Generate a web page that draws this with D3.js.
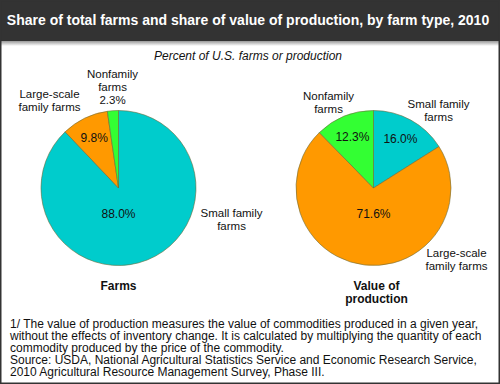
<!DOCTYPE html>
<html>
<head>
<meta charset="utf-8">
<script src="https://cdn.jsdelivr.net/npm/d3@7"></script>
<style>
  body { margin: 0; background: #fff; }
</style>
</head>
<body>
<svg id="chart" width="500" height="384" font-family="Arial, 'Liberation Sans', Helvetica, sans-serif"></svg>
<script>
// data
var farmTypes = ['Small family farms', 'Large-scale family farms', 'Nonfamily farms'];
var farmsShare = [88.0, 9.8, 2.3];
var productionShare = [16.0, 71.6, 12.3];
var pieTitles = [['Farms'], ['Value of', 'production']];
var footnote = [
  '1/ The value of production measures the value of commodities produced in a given year,',
  'without the effects of inventory change. It is calculated by multiplying the quantity of each',
  'commodity produced by the price of the commodity.',
  'Source: USDA, National Agricultural Statistics Service and Economic Research Service,',
  '2010 Agricultural Resource Management Survey, Phase III.'
];

var colors = d3.scaleOrdinal()
  .domain(farmTypes)
  .range(['#00CCCC', '#FF9900', '#33FF33']);

var W = 500, H = 384, radius = 77.5;
var svg = d3.select('#chart');

// frame + header
svg.append('rect').attr('width', W).attr('height', H).attr('fill', '#fff');

var defs = svg.append('defs');
var grad = defs.append('linearGradient').attr('id', 'shade')
  .attr('x1', 0).attr('y1', 0).attr('x2', 0).attr('y2', 1);
grad.append('stop').attr('offset', '0%').attr('stop-color', '#999');
grad.append('stop').attr('offset', '100%').attr('stop-color', '#fff');

svg.append('rect').attr('x', 0).attr('y', 41).attr('width', W).attr('height', 5)
  .attr('fill', 'url(#shade)');
svg.append('rect').attr('x', 0).attr('y', 0).attr('width', W).attr('height', 41)
  .attr('fill', '#333');
svg.append('rect').attr('x', 0.75).attr('y', 0.75).attr('width', W - 1.5).attr('height', H - 1.5)
  .attr('fill', 'none').attr('stroke', '#333').attr('stroke-width', 1.5);

svg.append('text')
  .attr('x', 248).attr('y', 20).attr('dy', '0.35em')
  .attr('text-anchor', 'middle')
  .attr('font-size', 14).attr('font-weight', 'bold').attr('fill', '#fff')
  .text('Share of total farms and share of value of production, by farm type, 2010');

svg.append('text')
  .attr('x', 248).attr('y', 56).attr('dy', '0.35em')
  .attr('text-anchor', 'middle')
  .attr('font-size', 12).attr('font-style', 'italic').attr('fill', '#111')
  .text('Percent of U.S. farms or production');

// pies
var pie = d3.pie().sort(null).value(function(d) { return d.value; });
var arc = d3.arc().innerRadius(0).outerRadius(radius);

// outer label anchors, relative to each pie centre
var outerLabels = [
  [[113, 25, ['Small family', 'farms']], [-69, -94, ['Large-scale', 'family farms']], [-6, -114, ['Nonfamily', 'farms', '2.3%']]],
  [[65, -84, ['Small family', 'farms']], [83, 65, ['Large-scale', 'family farms']], [-45, -92, ['Nonfamily', 'farms']]]
];
var centres = [[118.5, 188], [373.5, 188]];

[farmsShare, productionShare].forEach(function(series, k) {
  var data = farmTypes.map(function(t, i) { return {type: t, value: series[i]}; });
  var g = svg.append('g').attr('transform', 'translate(' + centres[k] + ')');

  var slices = pie(data);
  g.selectAll('path')
    .data(slices)
    .enter().append('path')
    .attr('d', arc)
    .attr('fill', function(d) { return colors(d.data.type); })
    .attr('stroke', '#6b6b3a')
    .attr('stroke-width', 0.6);

  // percent labels inside (small slice on left pie is labelled outside)
  g.selectAll('text.pct')
    .data(slices.filter(function(d) { return d.data.value > 5; }))
    .enter().append('text')
    .attr('class', 'pct')
    .attr('transform', function(d) {
      var a = (d.startAngle + d.endAngle) / 2;
      var r = d.data.value > 50 ? radius * 0.33 : radius * 0.72;
      if (d.data.value > 50) a = Math.PI;
      return 'translate(' + [r * Math.sin(a), -r * Math.cos(a)] + ')';
    })
    .attr('dy', '0.35em')
    .attr('text-anchor', 'middle')
    .attr('font-size', 12).attr('fill', '#111')
    .text(function(d) { return d.data.value.toFixed(1) + '%'; });

  outerLabels[k].forEach(function(l) {
    var t = g.append('text')
      .attr('text-anchor', 'middle')
      .attr('font-size', 11.5).attr('fill', '#111');
    l[2].forEach(function(line, j) {
      t.append('tspan')
        .attr('x', l[0]).attr('y', l[1] + j * 13).attr('dy', '0.35em')
        .text(line);
    });
  });

  var tt = g.append('text')
    .attr('text-anchor', 'middle')
    .attr('font-size', 12).attr('font-weight', 'bold').attr('fill', '#111');
  pieTitles[k].forEach(function(line, j) {
    tt.append('tspan')
      .attr('x', k === 0 ? 0 : 3).attr('y', 98 + j * 13).attr('dy', '0.35em')
      .text(line);
  });
});

// footnote
var fn = svg.append('text').attr('font-size', 12).attr('fill', '#111');
footnote.forEach(function(line, i) {
  fn.append('tspan').attr('x', 10).attr('y', 324 + i * 12).attr('dy', '0.35em').text(line);
});
</script>
</body>
</html>
